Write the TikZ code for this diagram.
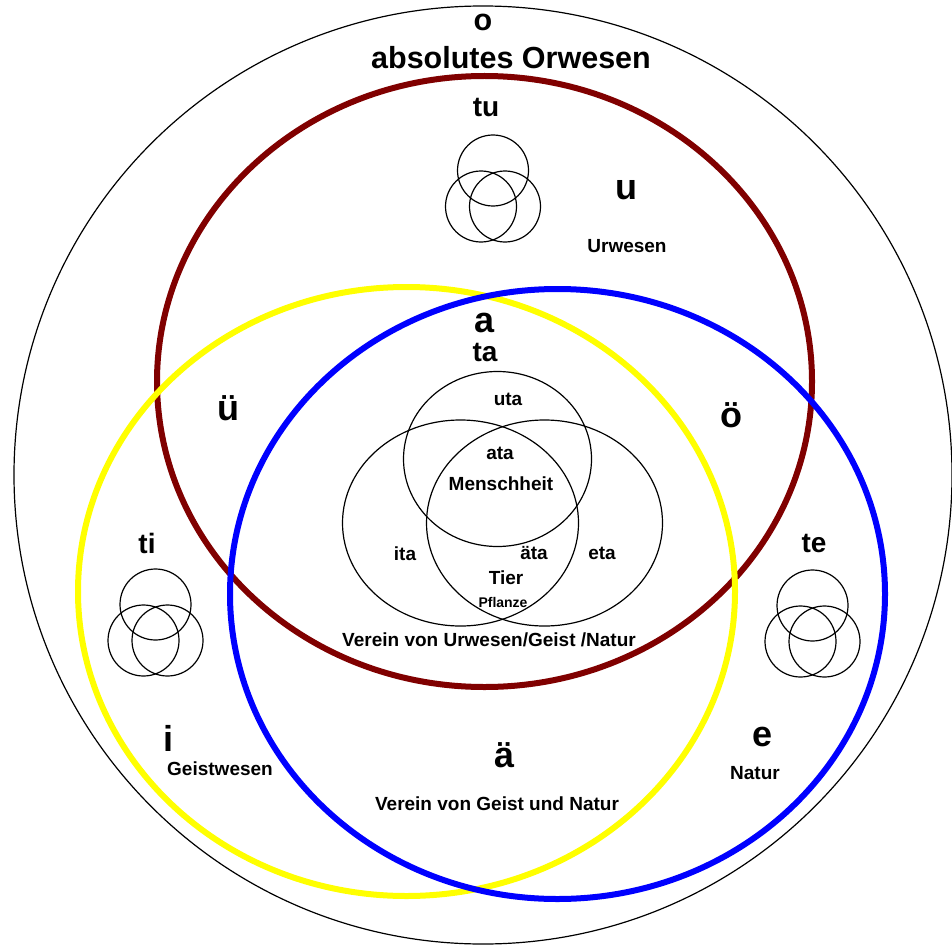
\documentclass[tikz,border=0pt]{standalone}
\usepackage{fontspec}
\setmainfont{Liberation Sans}
\begin{document}
\begin{tikzpicture}[x=1pt,y=-1pt,
  thin ring/.style={draw=black,line width=1.2pt},
  big ring/.style={line width=6pt},
  letter/.style={inner sep=0pt,font=\fontsize{36}{40}\selectfont\bfseries},
  syll/.style={inner sep=0pt,font=\fontsize{28}{32}\selectfont\bfseries},
  title/.style={inner sep=0pt,font=\fontsize{30.5}{34}\selectfont\bfseries},
  lab/.style={inner sep=0pt,font=\fontsize{19}{22}\selectfont\bfseries},
  small/.style={inner sep=0pt,font=\fontsize{14}{16}\selectfont\bfseries}]
\definecolor{urred}{HTML}{800000}
\definecolor{geistyellow}{HTML}{FFFF00}
\definecolor{naturblue}{HTML}{0000FF}
\useasboundingbox (0,0) rectangle (952,944);

% outer circle: absolutes Orwesen
\draw[thin ring] (483,475) circle [radius=469pt];

% the three large ellipses
\draw[big ring,draw=urred] (484.5,381.5) ellipse [x radius=327.5pt, y radius=305.5pt];
\draw[big ring,draw=geistyellow] (406.5,591.5) ellipse [x radius=328.5pt, y radius=304.5pt];
\draw[big ring,draw=naturblue] (557.5,594) ellipse [x radius=327.5pt, y radius=305pt];

% small triple circles
\foreach \cx/\cy in {493/170.5, 155.5/604.5, 812.5/605.5}{
  \draw[thin ring] (\cx,\cy) circle [radius=35.5pt];
  \draw[thin ring] (\cx-12,\cy+36) circle [radius=35.5pt];
  \draw[thin ring] (\cx+12,\cy+36) circle [radius=35.5pt];
}

% central triple
\draw[thin ring] (497.5,459) ellipse [x radius=94pt, y radius=87.5pt];
\draw[thin ring] (460.5,523) ellipse [x radius=118pt, y radius=103pt];
\draw[thin ring] (544.5,523) ellipse [x radius=118pt, y radius=103pt];

% labels
\node[title] (o) at (483,22) {o};
\node[title] (orwesen) at (511,58) {absolutes Orwesen};
\node[syll] (tu) at (486,108) {tu};
\node[letter] (u) at (626,190) {u};
\node[lab] (urwesen) at (627,246) {Urwesen};
\node[letter] (a) at (485,323) {a};
\node[syll] (ta) at (485,353) {ta};
\node[letter] (ue) at (228,408) {ü};
\node[letter] (oe) at (731,415) {ö};
\node[syll] (ti) at (147,543) {ti};
\node[syll] (te) at (814,543) {te};
\node[letter] (i) at (168,738) {i};
\node[lab] (geistwesen) at (220,769) {Geistwesen};
\node[letter] (ae) at (505,755) {ä};
\node[letter] (e) at (762,737) {e};
\node[lab] (natur) at (755,773) {Natur};
\node[lab] (vgn) at (497,804) {Verein von Geist und Natur};

\node[lab] (uta) at (508,399) {uta};
\node[lab] (ata) at (500,453) {ata};
\node[lab] (mensch) at (501,484) {Menschheit};
\node[lab] (ita) at (405,554) {ita};
\node[lab] (aeta) at (534,553) {äta};
\node[lab] (eta) at (602,553) {eta};
\node[lab] (tier) at (506,578) {Tier};
\node[small] (pflanze) at (503,602) {Pflanze};
\node[lab] (vugn) at (489,640) {Verein von Urwesen/Geist /Natur};
\end{tikzpicture}
\end{document}
